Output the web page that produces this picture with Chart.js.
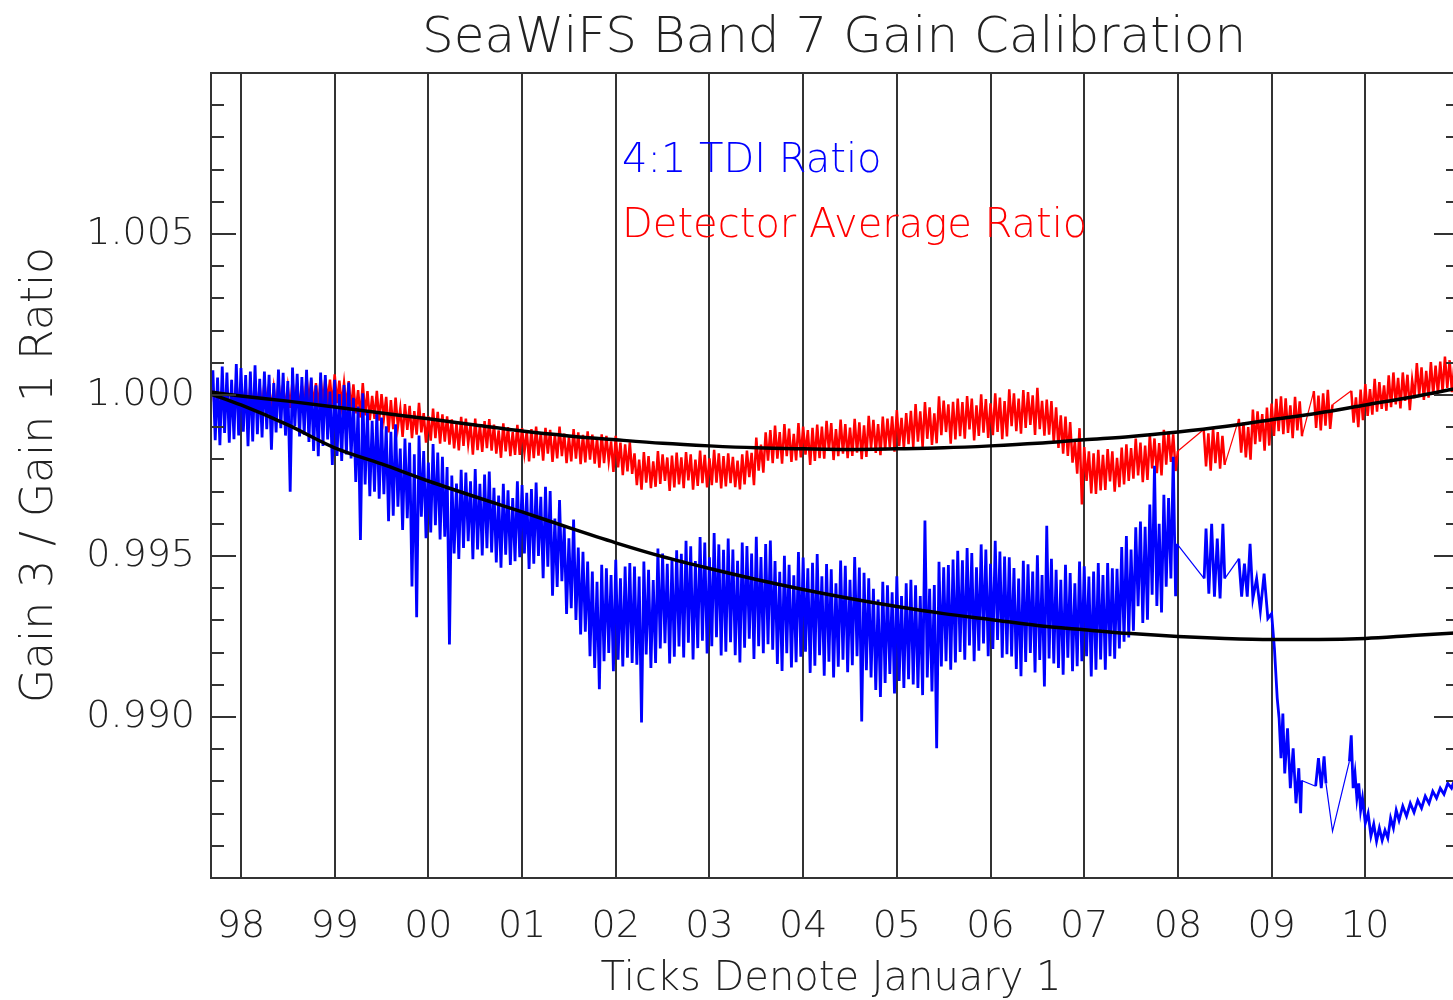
<!DOCTYPE html>
<html lang="en">
<head>
  <meta charset="UTF-8" />
  <title>SeaWiFS Band 7 Gain Calibration</title>
  <script src="https://cdn.jsdelivr.net/npm/chart.js"></script>
  <style>
    body { margin: 0; background: white; overflow: hidden; }
    #wrap { width: 1453px; height: 1000px; overflow: hidden; }
  </style>
</head>
<body>

  <div id="wrap">
    <canvas id="gainChart" width="1460" height="1000"></canvas>
  </div>

  <script>
    // shared time grid (decimal years) for the dense part of both series, one row per half year
    const years = [
      1997.700, 1997.725, 1997.750, 1997.775, 1997.800, 1997.825, 1997.850, 1997.875, 1997.900, 1997.925, 1997.950, 1997.975, 1998.000, 1998.025, 1998.050, 1998.075, 1998.100, 1998.125, 1998.150, 1998.175,
      1998.200, 1998.225, 1998.250, 1998.275, 1998.300, 1998.325, 1998.350, 1998.375, 1998.400, 1998.425, 1998.450, 1998.475, 1998.500, 1998.525, 1998.550, 1998.575, 1998.600, 1998.625, 1998.650, 1998.675,
      1998.700, 1998.725, 1998.750, 1998.775, 1998.800, 1998.825, 1998.850, 1998.875, 1998.900, 1998.925, 1998.950, 1998.975, 1999.000, 1999.025, 1999.050, 1999.075, 1999.100, 1999.125, 1999.150, 1999.175,
      1999.200, 1999.225, 1999.250, 1999.275, 1999.300, 1999.325, 1999.350, 1999.375, 1999.400, 1999.425, 1999.450, 1999.475, 1999.500, 1999.525, 1999.550, 1999.575, 1999.600, 1999.625, 1999.650, 1999.675,
      1999.700, 1999.725, 1999.750, 1999.775, 1999.800, 1999.825, 1999.850, 1999.875, 1999.900, 1999.925, 1999.950, 1999.975, 2000.000, 2000.025, 2000.050, 2000.075, 2000.100, 2000.125, 2000.150, 2000.175,
      2000.200, 2000.225, 2000.250, 2000.275, 2000.300, 2000.325, 2000.350, 2000.375, 2000.400, 2000.425, 2000.450, 2000.475, 2000.500, 2000.525, 2000.550, 2000.575, 2000.600, 2000.625, 2000.650, 2000.675,
      2000.700, 2000.725, 2000.750, 2000.775, 2000.800, 2000.825, 2000.850, 2000.875, 2000.900, 2000.925, 2000.950, 2000.975, 2001.000, 2001.025, 2001.050, 2001.075, 2001.100, 2001.125, 2001.150, 2001.175,
      2001.200, 2001.225, 2001.250, 2001.275, 2001.300, 2001.325, 2001.350, 2001.375, 2001.400, 2001.425, 2001.450, 2001.475, 2001.500, 2001.525, 2001.550, 2001.575, 2001.600, 2001.625, 2001.650, 2001.675,
      2001.700, 2001.725, 2001.750, 2001.775, 2001.800, 2001.825, 2001.850, 2001.875, 2001.900, 2001.925, 2001.950, 2001.975, 2002.000, 2002.025, 2002.050, 2002.075, 2002.100, 2002.125, 2002.150, 2002.175,
      2002.200, 2002.225, 2002.250, 2002.275, 2002.300, 2002.325, 2002.350, 2002.375, 2002.400, 2002.425, 2002.450, 2002.475, 2002.500, 2002.525, 2002.550, 2002.575, 2002.600, 2002.625, 2002.650, 2002.675,
      2002.700, 2002.725, 2002.750, 2002.775, 2002.800, 2002.825, 2002.850, 2002.875, 2002.900, 2002.925, 2002.950, 2002.975, 2003.000, 2003.025, 2003.050, 2003.075, 2003.100, 2003.125, 2003.150, 2003.175,
      2003.200, 2003.225, 2003.250, 2003.275, 2003.300, 2003.325, 2003.350, 2003.375, 2003.400, 2003.425, 2003.450, 2003.475, 2003.500, 2003.525, 2003.550, 2003.575, 2003.600, 2003.625, 2003.650, 2003.675,
      2003.700, 2003.725, 2003.750, 2003.775, 2003.800, 2003.825, 2003.850, 2003.875, 2003.900, 2003.925, 2003.950, 2003.975, 2004.000, 2004.025, 2004.050, 2004.075, 2004.100, 2004.125, 2004.150, 2004.175,
      2004.200, 2004.225, 2004.250, 2004.275, 2004.300, 2004.325, 2004.350, 2004.375, 2004.400, 2004.425, 2004.450, 2004.475, 2004.500, 2004.525, 2004.550, 2004.575, 2004.600, 2004.625, 2004.650, 2004.675,
      2004.700, 2004.725, 2004.750, 2004.775, 2004.800, 2004.825, 2004.850, 2004.875, 2004.900, 2004.925, 2004.950, 2004.975, 2005.000, 2005.025, 2005.050, 2005.075, 2005.100, 2005.125, 2005.150, 2005.175,
      2005.200, 2005.225, 2005.250, 2005.275, 2005.300, 2005.325, 2005.350, 2005.375, 2005.400, 2005.425, 2005.450, 2005.475, 2005.500, 2005.525, 2005.550, 2005.575, 2005.600, 2005.625, 2005.650, 2005.675,
      2005.700, 2005.725, 2005.750, 2005.775, 2005.800, 2005.825, 2005.850, 2005.875, 2005.900, 2005.925, 2005.950, 2005.975, 2006.000, 2006.025, 2006.050, 2006.075, 2006.100, 2006.125, 2006.150, 2006.175,
      2006.200, 2006.225, 2006.250, 2006.275, 2006.300, 2006.325, 2006.350, 2006.375, 2006.400, 2006.425, 2006.450, 2006.475, 2006.500, 2006.525, 2006.550, 2006.575, 2006.600, 2006.625, 2006.650, 2006.675,
      2006.700, 2006.725, 2006.750, 2006.775, 2006.800, 2006.825, 2006.850, 2006.875, 2006.900, 2006.925, 2006.950, 2006.975, 2007.000, 2007.025, 2007.050, 2007.075, 2007.100, 2007.125, 2007.150, 2007.175,
      2007.200, 2007.225, 2007.250, 2007.275, 2007.300, 2007.325, 2007.350, 2007.375, 2007.400, 2007.425, 2007.450, 2007.475, 2007.500, 2007.525, 2007.550, 2007.575, 2007.600, 2007.625, 2007.650, 2007.675,
      2007.700, 2007.725, 2007.750, 2007.775, 2007.800, 2007.825, 2007.850, 2007.875, 2007.900, 2007.925, 2007.950, 2007.975
    ];

    // Detector Average Ratio (red)
    const detRatio = [
      1.00024, 0.99943, 1.00008, 0.99931, 1.00028, 0.99949, 1.00017, 0.99936, 1.00014, 0.99951, 1.00042, 0.99958, 1.00032, 0.99965, 1.00024, 0.99940, 1.00030, 0.99949, 1.00037, 0.99956,
      1.00027, 0.99953, 1.00039, 0.99971, 1.00034, 0.99949, 1.00021, 0.99959, 1.00043, 0.99965, 1.00033, 0.99955, 1.00024, 0.99960, 1.00045, 0.99966, 1.00036, 0.99952, 1.00029, 0.99957,
      1.00057, 0.99978, 1.00048, 0.99967, 1.00037, 0.99961, 1.00055, 0.99974, 1.00051, 0.99980, 1.00048, 0.99963, 1.00064, 0.99975, 1.00045, 0.99970, 1.00037, 0.99962, 1.00043, 0.99954,
      1.00033, 0.99943, 1.00015, 0.99930, 1.00037, 0.99937, 1.00012, 0.99922, 0.99997, 0.99926, 1.00013, 0.99920, 1.00003, 0.99928, 0.99994, 0.99884, 0.99984, 0.99894, 0.99992, 0.99902,
      0.99957, 0.99870, 0.99972, 0.99892, 0.99966, 0.99866, 0.99950, 0.99877, 0.99976, 0.99884, 0.99944, 0.99852, 0.99934, 0.99858, 0.99958, 0.99866, 0.99948, 0.99849, 0.99940, 0.99855,
      0.99934, 0.99846, 0.99924, 0.99834, 0.99912, 0.99828, 0.99932, 0.99842, 0.99927, 0.99849, 0.99910, 0.99815, 0.99927, 0.99829, 0.99906, 0.99823, 0.99919, 0.99835, 0.99925, 0.99827,
      0.99908, 0.99818, 0.99890, 0.99805, 0.99912, 0.99825, 0.99900, 0.99810, 0.99885, 0.99814, 0.99907, 0.99814, 0.99897, 0.99822, 0.99888, 0.99794, 0.99894, 0.99804, 0.99902, 0.99812,
      0.99883, 0.99796, 0.99898, 0.99818, 0.99892, 0.99792, 0.99876, 0.99803, 0.99902, 0.99810, 0.99880, 0.99788, 0.99870, 0.99794, 0.99894, 0.99802, 0.99884, 0.99785, 0.99876, 0.99791,
      0.99887, 0.99799, 0.99877, 0.99787, 0.99865, 0.99774, 0.99878, 0.99788, 0.99873, 0.99795, 0.99856, 0.99761, 0.99873, 0.99775, 0.99852, 0.99751, 0.99847, 0.99763, 0.99853, 0.99755,
      0.99819, 0.99720, 0.99799, 0.99706, 0.99823, 0.99728, 0.99810, 0.99711, 0.99794, 0.99715, 0.99826, 0.99724, 0.99816, 0.99733, 0.99806, 0.99702, 0.99812, 0.99713, 0.99821, 0.99722,
      0.99806, 0.99711, 0.99823, 0.99735, 0.99816, 0.99706, 0.99799, 0.99718, 0.99827, 0.99726, 0.99814, 0.99713, 0.99803, 0.99720, 0.99830, 0.99728, 0.99819, 0.99710, 0.99810, 0.99716,
      0.99819, 0.99726, 0.99808, 0.99714, 0.99796, 0.99707, 0.99816, 0.99722, 0.99827, 0.99745, 0.99820, 0.99720, 0.99868, 0.99765, 0.99846, 0.99759, 0.99884, 0.99796, 0.99891, 0.99788,
      0.99905, 0.99802, 0.99885, 0.99787, 0.99910, 0.99810, 0.99896, 0.99792, 0.99879, 0.99797, 0.99913, 0.99806, 0.99902, 0.99815, 0.99891, 0.99783, 0.99898, 0.99795, 0.99908, 0.99804,
      0.99902, 0.99802, 0.99920, 0.99827, 0.99913, 0.99798, 0.99894, 0.99810, 0.99924, 0.99818, 0.99910, 0.99804, 0.99899, 0.99811, 0.99926, 0.99821, 0.99915, 0.99801, 0.99906, 0.99808,
      0.99935, 0.99834, 0.99923, 0.99820, 0.99910, 0.99813, 0.99933, 0.99829, 0.99927, 0.99837, 0.99934, 0.99824, 0.99953, 0.99841, 0.99929, 0.99834, 0.99944, 0.99847, 0.99951, 0.99838,
      0.99972, 0.99855, 0.99949, 0.99838, 0.99978, 0.99864, 0.99962, 0.99845, 0.99943, 0.99850, 0.99996, 0.99875, 0.99983, 0.99885, 0.99971, 0.99849, 0.99979, 0.99862, 0.99989, 0.99872,
      0.99978, 0.99864, 0.99997, 0.99893, 0.99989, 0.99859, 0.99968, 0.99873, 1.00002, 0.99883, 0.99987, 0.99867, 0.99974, 0.99875, 1.00005, 0.99885, 0.99992, 0.99863, 0.99981, 0.99871,
      1.00018, 0.99903, 1.00005, 0.99888, 0.99989, 0.99880, 1.00015, 0.99898, 1.00009, 0.99907, 0.99999, 0.99876, 1.00022, 0.99894, 0.99982, 0.99874, 0.99986, 0.99877, 0.99981, 0.99853,
      0.99962, 0.99836, 0.99937, 0.99818, 0.99933, 0.99811, 0.99916, 0.99790, 0.99855, 0.99756, 0.99897, 0.99660, 0.99838, 0.99733, 0.99825, 0.99694, 0.99819, 0.99693, 0.99830, 0.99704,
      0.99814, 0.99705, 0.99832, 0.99732, 0.99825, 0.99700, 0.99805, 0.99714, 0.99837, 0.99722, 0.99847, 0.99733, 0.99835, 0.99740, 0.99865, 0.99750, 0.99852, 0.99729, 0.99843, 0.99736,
      0.99877, 0.99772, 0.99865, 0.99757, 0.99851, 0.99750, 0.99892, 0.99784, 0.99886, 0.99792, 0.99878, 0.99764
    ];

    // 4:1 TDI Ratio (blue)
    const tdiRatio = [
      1.00077, 0.99860, 1.00054, 0.99844, 1.00088, 0.99882, 1.00070, 0.99852, 1.00047, 0.99863, 1.00096, 0.99874, 1.00084, 0.99886, 1.00062, 0.99841, 1.00073, 0.99856, 1.00092, 0.99878,
      1.00050, 0.99868, 1.00073, 0.99894, 1.00063, 0.99830, 1.00037, 0.99884, 1.00079, 0.99897, 1.00069, 0.99874, 1.00043, 0.99700, 1.00085, 0.99903, 1.00066, 0.99871, 1.00056, 0.99877,
      1.00078, 0.99854, 1.00054, 0.99826, 1.00030, 0.99810, 1.00070, 0.99842, 1.00062, 0.99862, 1.00011, 0.99783, 1.00047, 0.99811, 1.00003, 0.99795, 1.00031, 0.99815, 1.00039, 0.99803,
      0.99991, 0.99730, 0.99964, 0.99550, 1.00005, 0.99722, 0.99947, 0.99686, 0.99920, 0.99700, 0.99943, 0.99678, 0.99930, 0.99692, 0.99903, 0.99608, 0.99886, 0.99625, 0.99909, 0.99653,
      0.99834, 0.99581, 0.99865, 0.99617, 0.99852, 0.99405, 0.99816, 0.99310, 0.99874, 0.99622, 0.99826, 0.99555, 0.99790, 0.99573, 0.99848, 0.99596, 0.99821, 0.99551, 0.99808, 0.99560,
      0.99776, 0.99225, 0.99750, 0.99508, 0.99725, 0.99491, 0.99768, 0.99525, 0.99759, 0.99546, 0.99732, 0.99490, 0.99770, 0.99520, 0.99724, 0.99502, 0.99753, 0.99524, 0.99762, 0.99511,
      0.99712, 0.99480, 0.99688, 0.99464, 0.99724, 0.99504, 0.99704, 0.99472, 0.99680, 0.99484, 0.99732, 0.99496, 0.99720, 0.99508, 0.99696, 0.99460, 0.99708, 0.99476, 0.99728, 0.99500,
      0.99684, 0.99431, 0.99715, 0.99467, 0.99702, 0.99377, 0.99616, 0.99404, 0.99674, 0.99422, 0.99591, 0.99320, 0.99555, 0.99338, 0.99613, 0.99301, 0.99526, 0.99256, 0.99513, 0.99265,
      0.99483, 0.99189, 0.99452, 0.99152, 0.99420, 0.99086, 0.99473, 0.99173, 0.99462, 0.99199, 0.99441, 0.99142, 0.99488, 0.99178, 0.99431, 0.99157, 0.99467, 0.99184, 0.99478, 0.99168,
      0.99467, 0.99162, 0.99436, 0.98983, 0.99483, 0.99194, 0.99457, 0.99152, 0.99425, 0.99168, 0.99523, 0.99213, 0.99508, 0.99229, 0.99476, 0.99166, 0.99492, 0.99187, 0.99518, 0.99219,
      0.99507, 0.99185, 0.99547, 0.99231, 0.99530, 0.99179, 0.99484, 0.99214, 0.99559, 0.99237, 0.99542, 0.99197, 0.99496, 0.99220, 0.99571, 0.99248, 0.99536, 0.99191, 0.99519, 0.99203,
      0.99554, 0.99232, 0.99520, 0.99192, 0.99485, 0.99169, 0.99542, 0.99215, 0.99531, 0.99243, 0.99508, 0.99180, 0.99560, 0.99220, 0.99497, 0.99198, 0.99537, 0.99226, 0.99548, 0.99209,
      0.99484, 0.99165, 0.99451, 0.99143, 0.99501, 0.99198, 0.99473, 0.99154, 0.99440, 0.99170, 0.99512, 0.99187, 0.99495, 0.99203, 0.99462, 0.99137, 0.99479, 0.99159, 0.99506, 0.99192,
      0.99437, 0.99128, 0.99475, 0.99172, 0.99459, 0.99123, 0.99415, 0.99156, 0.99486, 0.99178, 0.99470, 0.99139, 0.99426, 0.99161, 0.99497, 0.99189, 0.99464, 0.98986, 0.99448, 0.99145,
      0.99431, 0.99123, 0.99398, 0.99084, 0.99365, 0.99062, 0.99420, 0.99106, 0.99409, 0.99134, 0.99387, 0.99073, 0.99437, 0.99112, 0.99376, 0.99090, 0.99415, 0.99117, 0.99426, 0.99101,
      0.99409, 0.99090, 0.99376, 0.99068, 0.99610, 0.99123, 0.99398, 0.99079, 0.99410, 0.98903, 0.99482, 0.99157, 0.99465, 0.99173, 0.99472, 0.99147, 0.99489, 0.99169, 0.99516, 0.99202,
      0.99487, 0.99178, 0.99525, 0.99222, 0.99509, 0.99173, 0.99465, 0.99206, 0.99536, 0.99228, 0.99520, 0.99189, 0.99476, 0.99211, 0.99547, 0.99239, 0.99514, 0.99184, 0.99498, 0.99195,
      0.99496, 0.99188, 0.99463, 0.99149, 0.99430, 0.99127, 0.99485, 0.99171, 0.99474, 0.99199, 0.99452, 0.99138, 0.99502, 0.99177, 0.99441, 0.99095, 0.99594, 0.99182, 0.99491, 0.99166,
      0.99457, 0.99152, 0.99426, 0.99131, 0.99473, 0.99184, 0.99447, 0.99142, 0.99415, 0.99158, 0.99483, 0.99173, 0.99468, 0.99189, 0.99436, 0.99126, 0.99452, 0.99147, 0.99478, 0.99179,
      0.99441, 0.99147, 0.99478, 0.99189, 0.99462, 0.99181, 0.99460, 0.99213, 0.99528, 0.99234, 0.99562, 0.99247, 0.99520, 0.99268, 0.99589, 0.99344, 0.99607, 0.99292, 0.99591, 0.99302,
      0.99660, 0.99380, 0.99780, 0.99345, 0.99600, 0.99325, 0.99690, 0.99405, 0.99680, 0.99430, 0.99808, 0.99375
    ];

    // sparse data after the start of 2008
    const detLateYears = [
      2008.000,
      2008.275, 2008.300, 2008.325, 2008.350, 2008.375, 2008.400, 2008.425, 2008.450, 2008.475, 2008.500,
      2008.650, 2008.675, 2008.700, 2008.725, 2008.750, 2008.775, 2008.800, 2008.825, 2008.850, 2008.875,
      2008.900, 2008.925, 2008.950, 2008.975, 2009.000, 2009.025, 2009.050, 2009.075, 2009.100, 2009.125,
      2009.150, 2009.175, 2009.200, 2009.225, 2009.250, 2009.275, 2009.300, 2009.325,
      2009.450, 2009.475, 2009.500, 2009.525, 2009.550, 2009.575, 2009.600, 2009.625, 2009.650,
      2009.850, 2009.875, 2009.900, 2009.925, 2009.950, 2009.975, 2010.000, 2010.025, 2010.050, 2010.075,
      2010.100, 2010.125, 2010.150, 2010.175, 2010.200, 2010.225, 2010.250, 2010.275, 2010.300, 2010.325,
      2010.350, 2010.375, 2010.400, 2010.425, 2010.450, 2010.475, 2010.500, 2010.525, 2010.550, 2010.575,
      2010.600, 2010.625, 2010.650, 2010.675, 2010.700, 2010.725, 2010.750, 2010.775, 2010.800, 2010.825,
      2010.850, 2010.875, 2010.900, 2010.925, 2010.950
    ];
    const detLate = [
      0.99826,
      0.99893, 0.99778, 0.99881, 0.99765, 0.99897, 0.99788, 0.99885, 0.99771, 0.99873, 0.99783,
      0.99926, 0.99821, 0.99914, 0.99806, 0.99900, 0.99799, 0.99955, 0.99847, 0.99949, 0.99855,
      0.99941, 0.99827, 0.99961, 0.99843, 0.99973, 0.99873, 0.99988, 0.99888, 0.99996, 0.99878,
      0.99990, 0.99882, 0.99968, 0.99866, 0.99994, 0.99890, 0.99980, 0.99872,
      1.00012, 0.99898, 0.99998, 0.99890, 1.00005, 0.99905, 1.00016, 0.99895, 0.99970,
      1.00013, 0.99914, 0.99993, 0.99900, 1.00017, 0.99922, 1.00034, 0.99935, 1.00018, 0.99939,
      1.00050, 0.99948, 1.00040, 0.99957, 1.00030, 0.99951, 1.00061, 0.99962, 1.00070, 0.99971,
      1.00053, 0.99958, 1.00070, 0.99982, 1.00063, 0.99953, 1.00046, 0.99990, 1.00099, 0.99998,
      1.00086, 0.99985, 1.00075, 0.99992, 1.00102, 1.00000, 1.00091, 1.00004, 1.00104, 1.00010,
      1.00119, 1.00022, 1.00108, 1.00009, 1.00095
    ];

    const tdiLateYears = [
      2007.99, 2008.28, 2008.30, 2008.33, 2008.36, 2008.39, 2008.42, 2008.45, 2008.48, 2008.50,
      2008.65, 2008.68, 2008.71, 2008.74, 2008.77, 2008.80, 2008.84, 2008.88, 2008.92, 2008.96,
      2009.00, 2009.03, 2009.06, 2009.08, 2009.10, 2009.12, 2009.14, 2009.17, 2009.20, 2009.23,
      2009.26, 2009.29, 2009.31, 2009.32,
      2009.47, 2009.50, 2009.53, 2009.56, 2009.58, 2009.65,
      2009.83, 2009.85, 2009.87, 2009.89, 2009.91, 2009.93, 2009.95, 2009.97,
      2010.00, 2010.03, 2010.06, 2010.09, 2010.12, 2010.15, 2010.18, 2010.21, 2010.24, 2010.27,
      2010.30, 2010.33, 2010.36, 2010.40, 2010.44, 2010.48, 2010.52, 2010.56, 2010.60, 2010.64,
      2010.68, 2010.72, 2010.76, 2010.80, 2010.84, 2010.88, 2010.92, 2010.95
    ];
    const tdiLate = [
      0.99538, 0.99430, 0.99585, 0.99383, 0.99600, 0.99374, 0.99554, 0.99368, 0.99600, 0.99430,
      0.99492, 0.99374, 0.99476, 0.99374, 0.99538, 0.99368, 0.99430, 0.99330, 0.99445, 0.99306,
      0.99321, 0.99213, 0.99058, 0.98996, 0.98872, 0.99011, 0.98825, 0.98965, 0.98779, 0.98903,
      0.98732, 0.98841, 0.98701, 0.98803,
      0.98785, 0.98872, 0.98779, 0.98878, 0.98794, 0.98645,
      0.98862, 0.98943, 0.98779, 0.98825, 0.98748, 0.98794, 0.98710, 0.98748,
      0.98670, 0.98701, 0.98630, 0.98667, 0.98614, 0.98655, 0.98617, 0.98648, 0.98624, 0.98686,
      0.98655, 0.98710, 0.98679, 0.98723, 0.98692, 0.98732, 0.98704, 0.98741, 0.98717, 0.98754,
      0.98732, 0.98769, 0.98748, 0.98779, 0.98760, 0.98794, 0.98779, 0.98803
    ];

    // fitted trend curves (black)
    const fitYears = [
      1997.68, 1998.0, 1998.5, 1999.0, 1999.5, 2000.0, 2000.5, 2001.0, 2001.5, 2002.0,
      2002.5, 2003.0, 2003.5, 2004.0, 2004.5, 2005.0, 2005.5, 2006.0, 2006.5, 2007.0,
      2007.5, 2008.0, 2008.5, 2009.0, 2009.5, 2010.0, 2010.5, 2011.0
    ];
    const detFit = [
      1.00009, 0.99997, 0.99981, 0.99963, 0.99944, 0.99926, 0.99907, 0.99888, 0.99873, 0.99861,
      0.99850, 0.99842, 0.99836, 0.99833, 0.99831, 0.99833, 0.99836, 0.99842, 0.99850, 0.99861,
      0.99871, 0.99885, 0.99902, 0.99923, 0.99944, 0.99969, 0.99994, 1.00022
    ];
    const tdiFit = [
      1.00003, 0.99969, 0.99907, 0.99836, 0.99786, 0.99733, 0.99684, 0.99637, 0.99588, 0.99541,
      0.99498, 0.99461, 0.99427, 0.99396, 0.99368, 0.99343, 0.99321, 0.99303, 0.99284, 0.99271,
      0.99259, 0.99250, 0.99244, 0.99241, 0.99241, 0.99244, 0.99253, 0.99262
    ];

    // axis ticks
    const yearTicks = [1998, 1999, 2000, 2001, 2002, 2003, 2004, 2005, 2006, 2007, 2008, 2009, 2010];
    const yearLabels = ['98', '99', '00', '01', '02', '03', '04', '05', '06', '07', '08', '09', '10'];
    const yLabelTicks = [0.990, 0.995, 1.000, 1.005];
    const yMinorTicks = [
      0.986, 0.987, 0.988, 0.989, 0.990, 0.991, 0.992, 0.993, 0.994, 0.995, 0.996, 0.997,
      0.998, 0.999, 1.000, 1.001, 1.002, 1.003, 1.004, 1.005, 1.006, 1.007, 1.008, 1.009
    ];

    const FONT = '"DejaVu Sans", "Liberation Sans", sans-serif';
    const INK = '#222';
    const AXIS = '#333';

    const pts = (xs, ys) => xs.map((x, i) => ({ x: x, y: ys[i] }));

    // long jumps across data gaps are drawn as a thin connecting line
    const gapWidth = c => (c.p1.parsed.x - c.p0.parsed.x > 0.06 ? 1.2 : undefined);

    const decor = {
      id: 'decor',
      afterDatasetsDraw(chart) {
        const { ctx, chartArea: a, scales: { y } } = chart;
        ctx.save();
        ctx.strokeStyle = AXIS;
        ctx.lineWidth = 2;
        ctx.strokeRect(a.left, a.top, a.right - a.left, a.bottom - a.top);
        ctx.beginPath();
        yMinorTicks.forEach(v => {
          const py = Math.round(y.getPixelForValue(v));
          const big = yLabelTicks.some(m => Math.abs(m - v) < 1e-9);
          const len = big ? 25 : 13;
          ctx.moveTo(a.left, py); ctx.lineTo(a.left + len, py);
          ctx.moveTo(a.right - len, py); ctx.lineTo(a.right, py);
        });
        ctx.stroke();

        ctx.fillStyle = INK;
        ctx.textBaseline = 'alphabetic';
        ctx.textAlign = 'center';
        ctx.font = '200 50px ' + FONT;
        ctx.fillText('SeaWiFS Band 7 Gain Calibration', 834, 52);
        ctx.font = '200 40px ' + FONT;
        ctx.fillText('Ticks Denote January 1', 831, 990);

        ctx.save();
        ctx.translate(52, 475);
        ctx.rotate(-Math.PI / 2);
        ctx.font = '200 44px ' + FONT;
        ctx.fillText('Gain 3 / Gain 1 Ratio', 0, 0);
        ctx.restore();

        ctx.textAlign = 'left';
        ctx.font = '200 40px ' + FONT;
        ctx.fillStyle = '#0000ff';
        ctx.fillText('4:1 TDI Ratio', 622, 172);
        ctx.fillStyle = '#ff0000';
        ctx.fillText('Detector Average Ratio', 622, 237);
        ctx.restore();
      }
    };

    const ctx = document.getElementById('gainChart').getContext('2d');
    const chart = new Chart(ctx, {
      type: 'line',
      data: {
        datasets: [
          {
            label: 'Detector fit',
            data: pts(fitYears, detFit),
            borderColor: '#000',
            borderWidth: 3.5,
            pointRadius: 0,
            cubicInterpolationMode: 'monotone'
          },
          {
            label: 'TDI fit',
            data: pts(fitYears, tdiFit),
            borderColor: '#000',
            borderWidth: 3.5,
            pointRadius: 0,
            cubicInterpolationMode: 'monotone'
          },
          {
            label: '4:1 TDI Ratio',
            data: pts(years, tdiRatio).concat(pts(tdiLateYears, tdiLate)),
            borderColor: '#0000ff',
            borderWidth: 2.8,
            pointRadius: 0,
            tension: 0,
            segment: { borderWidth: gapWidth }
          },
          {
            label: 'Detector Average Ratio',
            data: pts(years, detRatio).concat(pts(detLateYears, detLate)),
            borderColor: '#ff0000',
            borderWidth: 2.5,
            pointRadius: 0,
            tension: 0,
            segment: { borderWidth: gapWidth }
          }
        ]
      },
      options: {
        responsive: false,
        animation: false,
        events: [],
        layout: { padding: { top: 73, right: 1, left: 0, bottom: 0 } },
        plugins: { legend: { display: false }, tooltip: { enabled: false } },
        scales: {
          x: {
            type: 'linear',
            min: 1997.68,
            max: 2011.0,
            afterFit: s => { s.height = 122; },
            afterBuildTicks: s => { s.ticks = yearTicks.map(v => ({ value: v })); },
            grid: { color: AXIS, lineWidth: 2, drawTicks: false },
            border: { display: false },
            ticks: {
              autoSkip: false,
              maxRotation: 0,
              padding: 26,
              color: INK,
              font: { family: FONT, size: 38, weight: '200' },
              callback: (v, i) => yearLabels[i]
            }
          },
          y: {
            min: 0.985,
            max: 1.010,
            afterFit: s => { s.width = 211; },
            afterBuildTicks: s => { s.ticks = yLabelTicks.map(v => ({ value: v })); },
            grid: { display: false, drawTicks: false },
            border: { display: false },
            ticks: {
              padding: 16,
              color: INK,
              font: { family: FONT, size: 38, weight: '200' },
              callback: v => v.toFixed(3)
            }
          }
        }
      },
      plugins: [decor]
    });
  </script>

</body>
</html>
